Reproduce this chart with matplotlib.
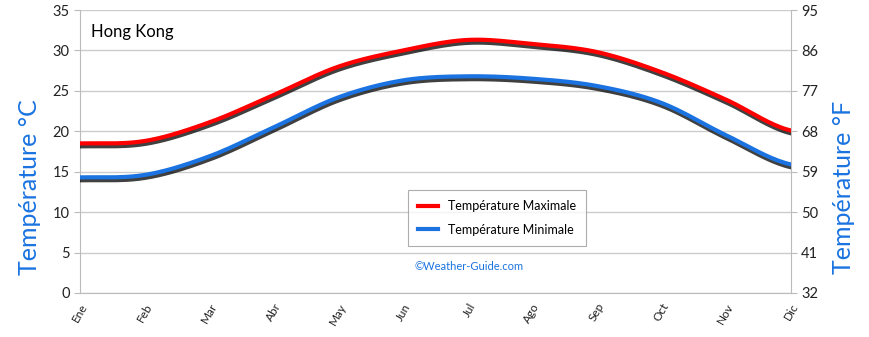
import numpy as np
import matplotlib
matplotlib.use('Agg')
import matplotlib.pyplot as plt
import matplotlib.patheffects as pe

months = ['Ene', 'Feb', 'Mar', 'Abr', 'May', 'Jun', 'Jul', 'Ago', 'Sep', 'Oct', 'Nov', 'Dic']
temp_max = [18.5, 18.8, 21.1, 24.5, 28.0, 30.0, 31.3, 30.8, 29.8, 27.3, 23.9, 20.1]
temp_min = [14.3, 14.6, 16.9, 20.5, 24.2, 26.3, 26.8, 26.5, 25.6, 23.5, 19.5, 15.9]
f_ticks = [32, 41, 50, 59, 68, 77, 86, 95]

blue = '#1a73e0'


def smooth(y, n=20):
    # Catmull-Rom curve through the monthly points (like a smoothed line)
    y = np.asarray(y, dtype=float)
    p = np.concatenate([[y[0]], y, [y[-1]]])
    xs, ys = [], []
    for i in range(len(y) - 1):
        t = np.linspace(0, 1, n, endpoint=False)
        p0, p1, p2, p3 = p[i], p[i + 1], p[i + 2], p[i + 3]
        seg = 0.5 * (2 * p1 + (-p0 + p2) * t + (2 * p0 - 5 * p1 + 4 * p2 - p3) * t ** 2
                     + (-p0 + 3 * p1 - 3 * p2 + p3) * t ** 3)
        xs.extend(i + t)
        ys.extend(seg)
    xs.append(len(y) - 1)
    ys.append(y[-1])
    return np.array(xs), np.array(ys)


plt.rcParams['font.family'] = ['Lato', 'DejaVu Sans']

fig = plt.figure(figsize=(8.7, 3.37), dpi=100)
ax = fig.add_axes([0.092, 0.1306, 0.817, 0.8397])

shadow = [pe.SimpleLineShadow(offset=(0.4, -1.6), shadow_color='black', alpha=0.75, linewidth=4),
          pe.Normal()]

x, y = smooth(temp_max)
ax.plot(x, y, color='#ff0000', lw=3, path_effects=shadow, label='Température Maximale', zorder=3)
x, y = smooth(temp_min)
ax.plot(x, y, color=blue, lw=3, path_effects=shadow, label='Température Minimale', zorder=3)

ax.set_xlim(0, 11)
ax.set_ylim(0, 35)
ax.set_yticks(range(0, 36, 5))
ax.set_xticks(range(12))
ax.set_xticklabels(months, rotation=60, ha='right', va='top', rotation_mode='anchor', fontsize=8.5)
ax.tick_params(axis='y', labelsize=10.5, length=4, color='#bbbbbb', labelcolor='#222222')
ax.tick_params(axis='x', length=0, pad=6, labelcolor='#222222')
ax.grid(axis='y', color='#cccccc', lw=1)
ax.set_axisbelow(True)
for s in ['left', 'bottom', 'right']:
    ax.spines[s].set_color('#bbbbbb')
ax.spines['top'].set_visible(False)

ax2 = ax.twinx()
ax2.set_ylim(32, 95)
ax2.set_yticks(f_ticks)
ax2.tick_params(axis='y', labelsize=10.5, length=4, color='#bbbbbb', labelcolor='#222222')
for s in ax2.spines.values():
    s.set_visible(False)

fig.text(0.034, 0.445, 'Température °C', rotation=90, color=blue, fontsize=18,
         ha='center', va='center')
fig.text(0.969, 0.445, 'Température °F', rotation=90, color=blue, fontsize=18,
         ha='center', va='center')

ax.text(0.016, 0.95, 'Hong Kong', transform=ax.transAxes, fontsize=12, va='top', ha='left')
ax.text(0.547, 0.095, '©Weather-Guide.com', transform=ax.transAxes, fontsize=8,
        color=blue, ha='center', va='center')

leg = ax.legend(loc='center', bbox_to_anchor=(0.587, 0.265), fontsize=9, frameon=True,
                fancybox=False, edgecolor='#999999', handlelength=1.6, borderpad=0.8,
                labelspacing=0.9)
leg.get_frame().set_linewidth(0.8)
for h in leg.get_lines():
    h.set_path_effects([pe.Normal()])

fig.savefig('out.png', dpi=100)
